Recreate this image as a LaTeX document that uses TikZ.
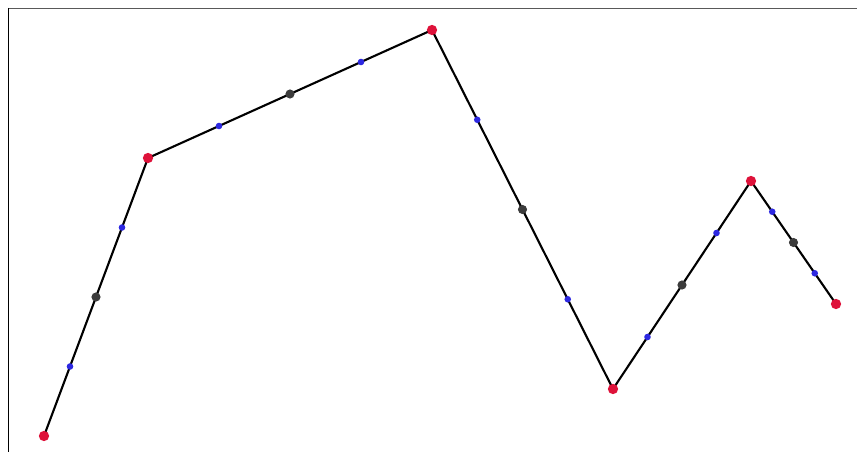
\documentclass[tikz,border=0pt]{standalone}
\usetikzlibrary{calc}

\definecolor{vertexred}{RGB}{222,18,58}
\definecolor{quarterblue}{RGB}{45,40,225}
\definecolor{midgray}{RGB}{60,60,60}

\tikzset{
  vertex/.style={fill=vertexred},
  midpt/.style={fill=midgray},
  quarterpt/.style={fill=quarterblue}
}

\begin{document}
\begin{tikzpicture}[x=0.03cm,y=-0.03cm]
        \useasboundingbox (0,0) rectangle (857,452);
        % frame
        \draw [line width=1.4pt,black!65] (8,8.5) -- (857,8.5);
        \draw [line width=1.4pt] (8.5,8) -- (8.5,452);
        % corner points of the path
        \coordinate (p1) at (44,436);
        \coordinate (p2) at (148,158);
        \coordinate (p3) at (432,30);
        \coordinate (p4) at (613,389);
        \coordinate (p5) at (751,181);
        \coordinate (p6) at (836,304);
        \draw [line width=1.8pt,line join=round] (p1) -- (p2) -- (p3) -- (p4) -- (p5) -- (p6);
        % points along each segment
        \foreach \a/\b in {p1/p2,p2/p3,p3/p4,p4/p5,p5/p6} {
            \fill [quarterpt] ($(\a)!0.25!(\b)$) circle [radius=2.8pt];
            \fill [midpt] ($(\a)!0.5!(\b)$) circle [radius=3.9pt];
            \fill [quarterpt] ($(\a)!0.75!(\b)$) circle [radius=2.8pt];
        }
        \foreach \p in {p1,p2,p3,p4,p5,p6}
            \fill [vertex] (\p) circle [radius=4.4pt];
    \end{tikzpicture}
\end{document}
